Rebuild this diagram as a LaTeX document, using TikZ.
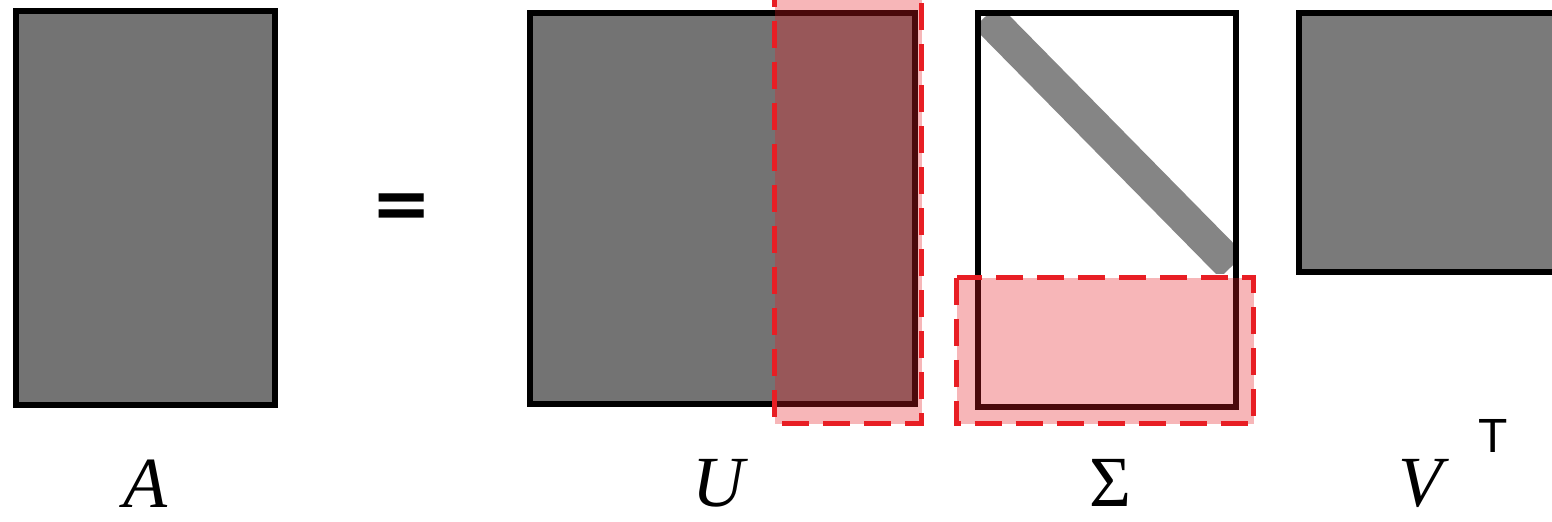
\documentclass[tikz,border=0pt]{standalone}
\usepackage{fontspec}
\newfontfamily\lserif{Liberation Serif}
\newfontfamily\lsans{Liberation Sans}
\newfontfamily\djb{DejaVu Sans}
\definecolor{hlred}{RGB}{232,30,36}
\begin{document}
\begin{tikzpicture}[x=0.5pt,y=-0.5pt,
  mat/.style={draw=black, line width=3pt, fill=black!55, inner sep=0pt, outer sep=0pt},
  redbox/.style={draw=hlred, line width=2.5pt, dash pattern=on 13.5pt off 7pt,
                 fill=hlred, fill opacity=0.32, draw opacity=1},
  lbl/.style={inner sep=0pt, font=\fontsize{36}{40}\selectfont\lserif},
]
\clip (0,0) rectangle (1552,521);
\fill[white] (0,0) rectangle (1552,521);

% matrices
\node[mat, minimum width=129.5pt, minimum height=197pt] (A) at (145.5,208) {};
\node[inner sep=0pt, anchor=base, font=\fontsize{36}{40}\selectfont\djb\bfseries] (eq) at (401.5,228) {=};
\node[mat, minimum width=192.5pt, minimum height=195.5pt] (U) at (722.5,208.5) {};
\node[mat, fill=white, minimum width=129pt, minimum height=197pt] (S) at (1107,210) {};
\begin{scope}
  \clip (981,16) rectangle (1233,273);
  \draw[black!48, line width=17pt] (986,16) -- (1232,266);
\end{scope}
\draw[black, line width=3pt] (S.south west) rectangle (S.north east);
\node[mat, fill=black!52, minimum width=133pt, minimum height=129.5pt] (V) at (1432,142.5) {};

% highlight boxes
\coordinate (r1a) at (774.5,-20);
\coordinate (r1b) at (921.5,423.5);
\draw[redbox] (r1a) rectangle (r1b);
\coordinate (r2a) at (956.5,277.5);
\coordinate (r2b) at (1253.5,423.5);
\draw[redbox] (r2a) rectangle (r2b);

% labels
\node[lbl] (lA) at (145,484) {\itshape A};
\node[lbl] (lU) at (718,483) {\itshape U};
\node[lbl] (lS) at (1110,483) {Σ};
\node[lbl] (lV) at (1420,483) {\itshape V};
\node[inner sep=0pt, font=\fontsize{24}{28}\selectfont\lsans] (lT) at (1493,436) {T};
\end{tikzpicture}
\end{document}
